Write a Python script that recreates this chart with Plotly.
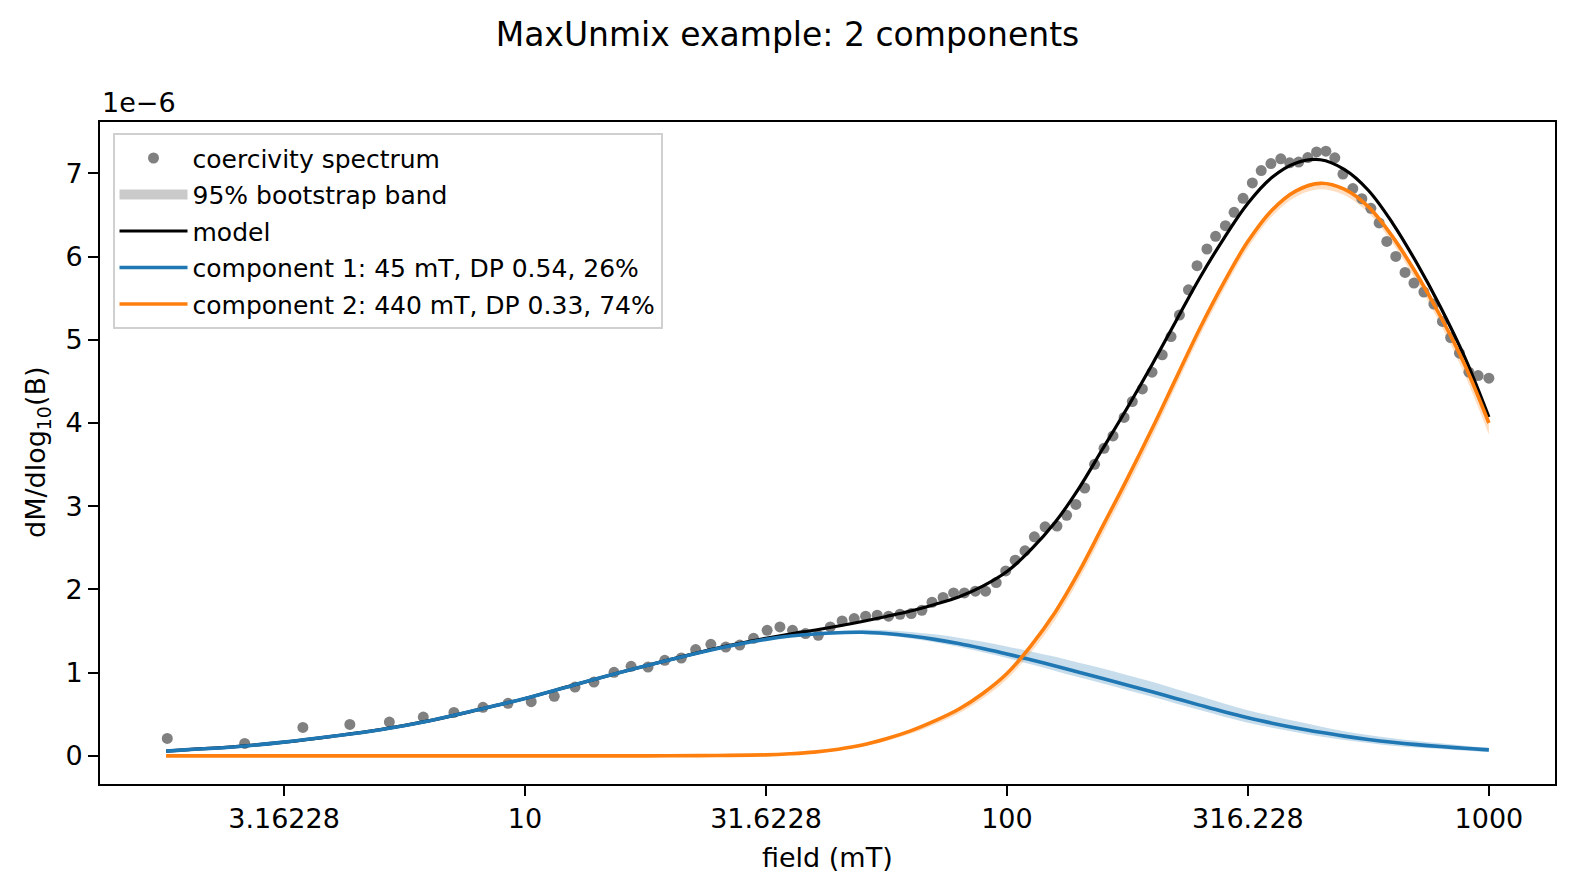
import plotly.graph_objects as go

# ---------------- data (values in units of 1e-6) ----------------
field_pts = [1.81, 2.62, 3.46, 4.33, 5.23, 6.15, 7.12, 8.18, 9.22, 10.3,
             11.5, 12.7, 13.9, 15.3, 16.6, 18.0, 19.5, 21.1, 22.6, 24.3,
             26.1, 27.9, 29.8, 31.8, 33.8, 35.9, 38.2, 40.6, 43.0, 45.5,
             48.2, 50.9, 53.8, 56.8, 60.0, 63.3, 66.6, 69.9, 73.7, 77.5,
             81.6, 86.0, 90.3, 95.0, 99.4, 104, 109, 114, 120, 127,
             133, 139, 145, 152, 159, 166, 175, 182, 191, 200,
             210, 219, 228, 238, 248, 260, 271, 284, 296, 309,
             323, 337, 353, 370, 386, 403, 421, 439, 459, 479,
             498, 522, 545, 569, 592, 614, 641, 670, 699, 733,
             769, 801, 833, 869, 909, 950, 1000]
spectrum = [0.209, 0.149, 0.342, 0.378, 0.406, 0.466, 0.522, 0.583, 0.631, 0.651,
            0.715, 0.827, 0.887, 1.004, 1.076, 1.068, 1.148, 1.176, 1.277, 1.341,
            1.308, 1.332, 1.413, 1.509, 1.549, 1.509, 1.469, 1.449, 1.549, 1.621,
            1.650, 1.678, 1.690, 1.678, 1.702, 1.710, 1.750, 1.846, 1.903, 1.958,
            1.958, 1.979, 1.979, 2.083, 2.223, 2.352, 2.464, 2.632, 2.752, 2.761,
            2.890, 3.022, 3.218, 3.503, 3.696, 3.844, 4.067, 4.257, 4.410, 4.611,
            4.819, 5.039, 5.297, 5.601, 5.890, 6.091, 6.243, 6.371, 6.531, 6.700,
            6.885, 7.033, 7.118, 7.174, 7.126, 7.136, 7.190, 7.258, 7.266, 7.187,
            6.991, 6.817, 6.696, 6.580, 6.404, 6.182, 6.002, 5.809, 5.682, 5.574,
            5.429, 5.220, 5.027, 4.839, 4.611, 4.570, 4.538]

field_grid = [1.8, 2.0, 2.51, 3.16, 3.98, 5.01, 6.31, 7.94, 10.0, 12.6, 15.8, 20.0, 25.1,
              31.6, 35.5, 39.8, 44.7, 50.1, 56.2, 63.1, 70.8, 79.4, 89.1,
              100, 112, 126, 141, 158, 178, 200, 224, 251, 282,
              316, 355, 398, 447, 501, 562, 631, 708, 794, 891, 1000]
model = [0.057, 0.075, 0.11, 0.165, 0.235, 0.315, 0.42, 0.55, 0.69, 0.85, 1.005, 1.156, 1.295,
         1.412, 1.465, 1.51, 1.56, 1.615, 1.675, 1.74, 1.82, 1.91, 2.04,
         2.215, 2.475, 2.81, 3.215, 3.69, 4.19, 4.70, 5.22, 5.74, 6.22,
         6.638, 6.953, 7.125, 7.163, 7.047, 6.797, 6.403, 5.925, 5.392, 4.791, 4.072]
comp1 = [0.057, 0.075, 0.11, 0.165, 0.235, 0.315, 0.42, 0.55, 0.69, 0.85, 1.005, 1.155, 1.29,
         1.40, 1.44, 1.465, 1.48, 1.485, 1.47, 1.44, 1.40, 1.35, 1.29,
         1.225, 1.155, 1.08, 1.005, 0.93, 0.85, 0.77, 0.69, 0.61, 0.53,
         0.458, 0.393, 0.335, 0.283, 0.237, 0.197, 0.163, 0.135, 0.112, 0.091, 0.072]
comp1_hi = [0.062, 0.08, 0.115, 0.17, 0.24, 0.32, 0.425, 0.555, 0.695, 0.855, 1.01, 1.16, 1.295,
            1.408, 1.451, 1.48, 1.502, 1.515, 1.51, 1.49, 1.46, 1.42, 1.37,
            1.315, 1.255, 1.19, 1.12, 1.05, 0.97, 0.89, 0.805, 0.72, 0.63,
            0.548, 0.478, 0.415, 0.353, 0.297, 0.252, 0.213, 0.18, 0.152, 0.123, 0.097]
comp1_lo = [0.052, 0.07, 0.105, 0.16, 0.23, 0.31, 0.415, 0.545, 0.685, 0.845, 1.0, 1.15, 1.285,
            1.392, 1.431, 1.455, 1.465, 1.465, 1.445, 1.41, 1.365, 1.31, 1.245,
            1.175, 1.10, 1.02, 0.945, 0.87, 0.79, 0.71, 0.63, 0.55, 0.47,
            0.398, 0.338, 0.285, 0.233, 0.192, 0.155, 0.123, 0.10, 0.082, 0.063, 0.047]
comp2 = [0, 0, 0, 0, 0, 0, 0, 0, 0, 0, 0, 0.001, 0.005,
         0.012, 0.025, 0.045, 0.08, 0.13, 0.205, 0.30, 0.42, 0.56, 0.75,
         0.99, 1.32, 1.73, 2.21, 2.76, 3.34, 3.93, 4.53, 5.13, 5.69,
         6.18, 6.56, 6.79, 6.88, 6.81, 6.60, 6.24, 5.79, 5.28, 4.70, 4.00]
comp2_hi = [0, 0, 0, 0, 0, 0, 0, 0, 0, 0, 0, 0.001, 0.006,
            0.014, 0.028, 0.05, 0.087, 0.14, 0.217, 0.315, 0.438, 0.58, 0.77,
            1.01, 1.34, 1.75, 2.23, 2.78, 3.36, 3.95, 4.55, 5.15, 5.71,
            6.20, 6.58, 6.81, 6.90, 6.83, 6.62, 6.26, 5.81, 5.30, 4.72, 4.02]
comp2_lo = [0, 0, 0, 0, 0, 0, 0, 0, 0, 0, 0, 0.001, 0.004,
            0.009, 0.02, 0.035, 0.065, 0.11, 0.178, 0.265, 0.378, 0.51, 0.69,
            0.92, 1.24, 1.64, 2.115, 2.66, 3.24, 3.83, 4.435, 5.04, 5.605,
            6.10, 6.485, 6.72, 6.81, 6.74, 6.525, 6.16, 5.70, 5.18, 4.58, 3.86]

xtick_vals = [3.16228, 10, 31.6228, 100, 316.228, 1000]
xtick_text = ["3.16228", "10", "31.6228", "100", "316.228", "1000"]
ytick_vals = [0, 1, 2, 3, 4, 5, 6, 7]

labels = ["coercivity spectrum", "95% bootstrap band", "model",
          "component 1: 45 mT, DP 0.54, 26%", "component 2: 440 mT, DP 0.33, 74%"]

BLUE = "#1f77b4"
ORANGE = "#ff7f0e"
FONT = "DejaVu Sans"

fig = go.Figure()

# bands
fig.add_trace(go.Scatter(x=field_grid, y=comp1_lo, mode="lines", line=dict(width=0, shape="spline"),
                         showlegend=False, hoverinfo="skip"))
fig.add_trace(go.Scatter(x=field_grid, y=comp1_hi, mode="lines", line=dict(width=0, shape="spline"),
                         fill="tonexty", fillcolor="rgba(31,119,180,0.25)", showlegend=False, hoverinfo="skip"))
fig.add_trace(go.Scatter(x=field_grid, y=comp2_lo, mode="lines", line=dict(width=0, shape="spline"),
                         showlegend=False, hoverinfo="skip"))
fig.add_trace(go.Scatter(x=field_grid, y=comp2_hi, mode="lines", line=dict(width=0, shape="spline"),
                         fill="tonexty", fillcolor="rgba(255,127,14,0.25)", showlegend=False, hoverinfo="skip"))

# spectrum points
fig.add_trace(go.Scatter(x=field_pts, y=spectrum, mode="markers", name=labels[0],
                         marker=dict(color="#808080", size=11, line=dict(width=0)),
                         legendrank=1, legendgroup="a"))
# legend proxy for the band (placed outside the visible range)
fig.add_trace(go.Scatter(x=[1e6, 2e6], y=[0, 0], mode="lines",
                         line=dict(color="rgba(128,128,128,0.42)", width=16),
                         name=labels[1], legendrank=2, legendgroup="b", hoverinfo="skip"))
# model + components
fig.add_trace(go.Scatter(x=field_grid, y=model, mode="lines", name=labels[2],
                         line=dict(color="black", width=3.2, shape="spline"), legendrank=3, legendgroup="c"))
fig.add_trace(go.Scatter(x=field_grid, y=comp1, mode="lines", name=labels[3],
                         line=dict(color=BLUE, width=3.6, shape="spline"), legendrank=4, legendgroup="d"))
fig.add_trace(go.Scatter(x=field_grid, y=comp2, mode="lines", name=labels[4],
                         line=dict(color=ORANGE, width=3.6, shape="spline"), legendrank=5, legendgroup="e"))

axis_common = dict(showgrid=False, zeroline=False, showline=True, linecolor="black", linewidth=2,
                   mirror=True, ticks="outside", ticklen=10, tickwidth=2, tickcolor="black",
                   tickfont=dict(family=FONT, size=27, color="black"))

fig.update_xaxes(type="log", range=[0.1181, 3.1372], tickmode="array",
                 tickvals=xtick_vals, ticktext=xtick_text, **axis_common)
fig.update_yaxes(range=[-0.338, 7.617], tickmode="array", tickvals=ytick_vals,
                 ticktext=[str(v) for v in ytick_vals], **axis_common)

fig.update_layout(
    width=1575, height=892,
    margin=dict(l=100, r=20, t=122, b=108),
    paper_bgcolor="white", plot_bgcolor="white",
    font=dict(family=FONT, color="black"),
    title=dict(text="MaxUnmix example: 2 components", xref="container", x=0.5, xanchor="center",
               yref="container", y=1 - 34 / 892, yanchor="middle",
               font=dict(family=FONT, size=33, color="black")),
    legend=dict(x=0.0086, y=0.983, xanchor="left", yanchor="top", bgcolor="white",
                bordercolor="#d0d0d0", borderwidth=2, font=dict(family=FONT, size=25, color="black"),
                itemwidth=68, traceorder="grouped", tracegroupgap=1),
    showlegend=True,
    annotations=[
        dict(text="field (mT)", xref="paper", yref="paper", x=0.5, y=0, yshift=-73,
             xanchor="center", yanchor="middle", showarrow=False,
             font=dict(family=FONT, size=27, color="black")),
        dict(text="dM/dlog<sub>10</sub>(B)", xref="paper", yref="paper", x=0, y=0.5, xshift=-63,
             xanchor="center", yanchor="middle", textangle=-90, showarrow=False,
             font=dict(family=FONT, size=27, color="black")),
        dict(text="1e\u22126", xref="paper", yref="paper", x=0, y=1, yshift=2,
             xanchor="left", yanchor="bottom", showarrow=False,
             font=dict(family=FONT, size=27, color="black")),
    ],
)

fig.write_html("out.html")
